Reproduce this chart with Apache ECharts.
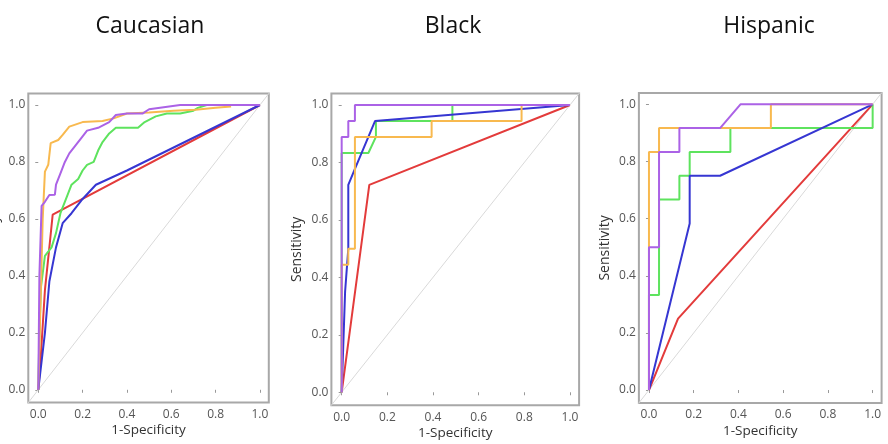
<!DOCTYPE html>
<html><head><meta charset="utf-8">
<script src="https://cdn.jsdelivr.net/npm/echarts@6/dist/echarts.min.js"></script>
<style>html,body{margin:0;padding:0;background:#fff}#c{width:888px;height:444px}</style>
</head><body><div id="c"></div>
<script>
// Panel titles
const panelTitles = ['Caucasian', 'Black', 'Hispanic'];
const tickValues = [0, 0.2, 0.4, 0.6, 0.8, 1.0];
const diagonal = [[-0.05, -0.05], [1.05, 1.05]];

// Caucasian ROC curves [1-specificity, sensitivity]
const cauRed = [[0,0],[0.01,0.1],[0.03,0.35],[0.05,0.5],[0.065,0.615],[1,1]];
const cauBlue = [[0,0],[0.03,0.2],[0.05,0.38],[0.08,0.5],[0.11,0.585],[0.15,0.62],[0.2,0.67],[0.26,0.72],[0.4,0.77],[1,1]];
const cauGreen = [[0,0],[0.005,0.2],[0.012,0.36],[0.03,0.47],[0.06,0.5],[0.08,0.55],[0.1,0.62],[0.13,0.68],[0.15,0.72],[0.18,0.74],[0.2,0.77],[0.22,0.79],[0.25,0.8],[0.27,0.84],[0.29,0.87],[0.32,0.9],[0.35,0.92],[0.45,0.92],[0.48,0.94],[0.53,0.96],[0.58,0.97],[0.64,0.97],[0.7,0.98],[0.72,0.99],[0.76,1.0],[1,1]];
const cauOrange = [[0,0],[0.01,0.3],[0.02,0.6],[0.03,0.766],[0.045,0.79],[0.056,0.866],[0.09,0.877],[0.11,0.895],[0.14,0.924],[0.2,0.94],[0.29,0.944],[0.34,0.953],[0.4,0.97],[0.5,0.974],[0.61,0.98],[0.71,0.983],[0.8,0.99],[0.87,0.995]];
const cauPurple = [[0,0],[0.005,0.4],[0.015,0.646],[0.03,0.66],[0.05,0.684],[0.075,0.685],[0.08,0.72],[0.1,0.76],[0.12,0.8],[0.14,0.83],[0.17,0.86],[0.2,0.89],[0.22,0.91],[0.27,0.92],[0.32,0.94],[0.35,0.965],[0.4,0.97],[0.47,0.97],[0.5,0.985],[0.64,1.0],[1,1]];

// Black ROC curves
const blkRed = [[0,0],[0.121,0.722],[1,1]];
const blkBlue = [[0,0],[0.015,0.35],[0.029,0.5],[0.029,0.722],[0.058,0.778],[0.146,0.944],[1,1]];
const blkGreen = [[0,0],[0,0.833],[0.117,0.833],[0.15,0.889],[0.15,0.944],[0.485,0.944],[0.485,1],[1,1]];
const blkOrange = [[0,0],[0,0.444],[0.029,0.444],[0.029,0.5],[0.058,0.5],[0.058,0.889],[0.394,0.889],[0.394,0.944],[0.788,0.944],[0.788,1],[1,1]];
const blkPurple = [[0,0],[0,0.889],[0.029,0.889],[0.029,0.944],[0.058,0.944],[0.058,1],[1,1]];

// Hispanic ROC curves
const hisRed = [[0,0],[0.13,0.25],[1,1]];
const hisBlue = [[0,0],[0.182,0.583],[0.182,0.75],[0.318,0.75],[1,1]];
const hisGreen = [[0,0],[0,0.333],[0.045,0.333],[0.045,0.667],[0.136,0.667],[0.136,0.75],[0.182,0.75],[0.182,0.833],[0.364,0.833],[0.364,0.917],[1,0.917],[1,1]];
const hisOrange = [[0,0],[0,0.833],[0.045,0.833],[0.045,0.917],[0.545,0.917],[0.545,1],[1,1]];
const hisPurple = [[0,0],[0,0.5],[0.045,0.5],[0.045,0.833],[0.136,0.833],[0.136,0.917],[0.318,0.917],[0.409,1],[1,1]];

const curveSets = [
  [cauRed, cauGreen, cauBlue, cauOrange, cauPurple],
  [blkRed, blkGreen, blkBlue, blkOrange, blkPurple],
  [hisRed, hisGreen, hisBlue, hisOrange, hisPurple]
];
const colors = ['#e33b3b', '#5ee35e', '#3636d2', '#f8b94f', '#ab62e6'];

const grids = [
  {left: 28.3, top: 93.6, width: 240.5, height: 309},
  {left: 331.4, top: 93.5, width: 247.7, height: 311.7},
  {left: 638.9, top: 92.9, width: 242.7, height: 310}
];
const titleX = [145, 448, 764];

const font = 'Open Sans';
const option = {
  animation: false,
  title: panelTitles.map((t, i) => ({
    text: t, left: titleX[i], top: 10, textAlign: 'center',
    textStyle: {fontFamily: font, fontSize: 23, fontWeight: 'normal', color: '#111'}
  })),
  grid: grids.map(g => Object.assign({show: true, borderColor: '#a8a8a8', borderWidth: 2,
    backgroundColor: '#fff', containLabel: false, outerBoundsMode: 'none'}, g)),
  xAxis: grids.map((g, i) => ({
    type: 'value', gridIndex: i, min: -0.045, max: 1.04,
    name: '1-Specificity', nameLocation: 'middle', nameGap: 21, nameMoveOverlap: false,
    nameTextStyle: {fontFamily: font, fontSize: 13.5, color: '#333'},
    axisLine: {show: false},
    axisTick: {show: true, length: 3, customValues: tickValues, lineStyle: {color: '#999'}},
    axisLabel: {customValues: tickValues, fontFamily: font, fontSize: 12, color: '#555', margin: 6,
      formatter: v => v.toFixed(1)},
    splitLine: {show: false}
  })),
  yAxis: grids.map((g, i) => ({
    type: 'value', gridIndex: i, min: -0.045, max: 1.04,
    name: 'Sensitivity', nameLocation: 'middle', nameGap: 27, nameRotate: 90, nameMoveOverlap: false,
    nameTextStyle: {fontFamily: font, fontSize: 14, color: '#333'},
    axisLine: {show: false},
    axisTick: {show: true, length: 3, customValues: tickValues, lineStyle: {color: '#999'}},
    axisLabel: {customValues: tickValues, fontFamily: font, fontSize: 12, color: '#555', margin: 3,
      formatter: v => v.toFixed(1)},
    splitLine: {show: false}
  })),
  series: []
};

curveSets.forEach((set, i) => {
  option.series.push({
    type: 'line', xAxisIndex: i, yAxisIndex: i, data: diagonal, showSymbol: false,
    lineStyle: {color: '#d9d9d9', width: 1}, silent: true, clip: true
  });
  set.forEach((d, k) => {
    option.series.push({
      type: 'line', xAxisIndex: i, yAxisIndex: i, data: d, showSymbol: false,
      lineStyle: {color: colors[k], width: 2}, silent: true, clip: true
    });
  });
});

const chart = echarts.init(document.getElementById('c'), null, {renderer: 'canvas'});
chart.setOption(option);
</script></body></html>
